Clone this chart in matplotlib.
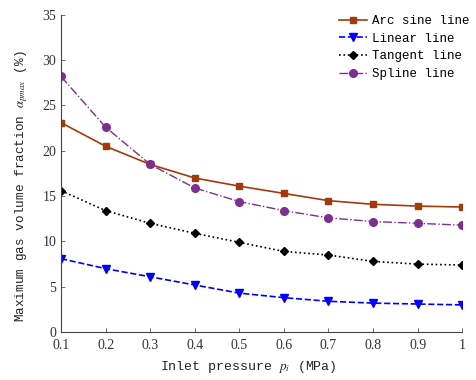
import numpy as np
import matplotlib.pyplot as plt

plt.rcParams['mathtext.fontset'] = 'stix'

# inlet pressure (MPa)
pressure = [0.1, 0.2, 0.3, 0.4, 0.5, 0.6, 0.7, 0.8, 0.9, 1.0]

# maximum gas volume fraction (%) for each blade profile
arc_sine = [23.1, 20.5, 18.5, 17.0, 16.1, 15.3, 14.5, 14.1, 13.9, 13.8]
linear = [8.1, 7.0, 6.1, 5.2, 4.3, 3.8, 3.4, 3.2, 3.1, 3.0]
tangent = [15.6, 13.4, 12.0, 10.9, 9.9, 8.9, 8.5, 7.8, 7.5, 7.4]
spline = [28.2, 22.6, 18.5, 15.9, 14.4, 13.4, 12.6, 12.2, 12.0, 11.8]

xtick_labels = ['0.1', '0.2', '0.3', '0.4', '0.5', '0.6', '0.7', '0.8', '0.9', '1']

mono = 'Liberation Mono'
serif = 'Liberation Serif'

fig = plt.figure(figsize=(4.77, 3.80), dpi=100)
ax = fig.add_axes([0.128, 0.126, 0.841, 0.835])

ax.plot(pressure, arc_sine, '-', color='#A33A0A', marker='s', ms=4.5, lw=1.2, label='Arc sine line')
ax.plot(pressure, linear, '--', color='#0000FF', marker='v', ms=5.5, lw=1.2, label='Linear line')
ax.plot(pressure, tangent, ':', color='black', marker='D', ms=4.5, lw=1.2, label='Tangent line')
ax.plot(pressure, spline, '-.', color='#7E2F8E', marker='o', ms=5.5, lw=1.0, label='Spline line')

ax.set_xlim(0.1, 1.0)
ax.set_ylim(0, 35)
ax.set_xticks(pressure)
ax.set_xticklabels(xtick_labels, fontfamily=serif, fontsize=10)
ax.set_yticks(np.arange(0, 36, 5))
ax.set_yticklabels([str(v) for v in range(0, 36, 5)], fontfamily=serif, fontsize=10)
ax.tick_params(direction='in', length=3, width=0.6, colors='#555555', labelcolor='#333333')
ax.tick_params(axis='x', pad=5)

for s in ['top', 'right']:
    ax.spines[s].set_visible(False)
for s in ['left', 'bottom']:
    ax.spines[s].set_color('#444444')
    ax.spines[s].set_linewidth(0.8)

ax.set_xlabel(r'Inlet pressure $p_i$ (MPa)', fontfamily=mono, fontsize=9.5, color='#222222')
ax.set_ylabel(r'Maximum gas volume fraction $\alpha_{pmax}$ (%)', fontfamily=mono, fontsize=9.2,
              color='#222222')
ax.xaxis.set_label_coords(0.466, -0.085)
ax.yaxis.set_label_coords(-0.078, 0.46)

leg = ax.legend(loc='upper right', frameon=False, prop={'family': mono, 'size': 9},
                handlelength=2.2, handletextpad=0.4, labelspacing=0.45, borderaxespad=0.0,
                bbox_to_anchor=(1.03, 1.015))

fig.savefig('out.png', dpi=100)
